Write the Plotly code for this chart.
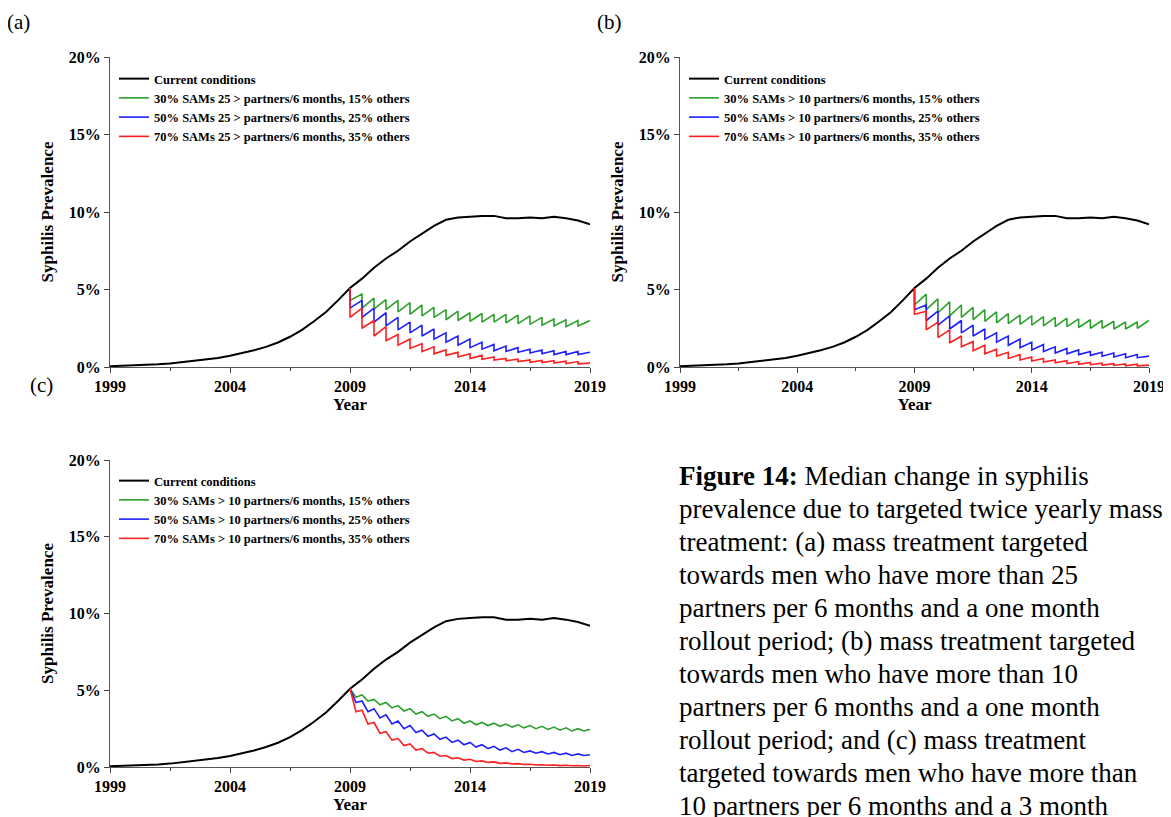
import plotly.graph_objects as go

# black baseline, half-yearly 1999..2019 (%)
years = [1999 + 0.5 * i for i in range(41)]
current = [0.05, 0.07, 0.1, 0.13, 0.17, 0.22, 0.3, 0.38, 0.47, 0.58, 0.72, 0.88, 1.08, 1.3,
           1.58, 1.95, 2.4, 2.95, 3.55, 4.3, 5.1, 5.7, 6.4, 7.0, 7.5, 8.1, 8.6, 9.1, 9.5, 9.65,
           9.7, 9.75, 9.75, 9.6, 9.6, 9.65, 9.6, 9.7, 9.6, 9.45, 9.2]

# treatment rounds every 6 months from 2009
rounds = [2009 + 0.5 * k for k in range(20)]

# value just before each round, just after, and at 2019
a_green_pk = [5.1, 4.7, 4.45, 4.35, 4.3, 4.15, 4.0, 3.85, 3.7, 3.6, 3.5, 3.45, 3.4, 3.4, 3.35, 3.3, 3.2, 3.1, 3.05, 3.0]
a_green_tr = [4.3, 3.8, 3.75, 3.7, 3.55, 3.4, 3.3, 3.2, 3.05, 3.0, 2.95, 2.9, 2.9, 2.85, 2.8, 2.75, 2.7, 2.65, 2.6, 2.65]
a_blue_pk = [5.1, 4.3, 3.8, 3.5, 3.2, 2.9, 2.7, 2.45, 2.2, 2.0, 1.8, 1.6, 1.45, 1.35, 1.25, 1.15, 1.1, 1.05, 1.0, 1.0]
a_blue_tr = [3.8, 3.2, 2.9, 2.65, 2.4, 2.2, 2.0, 1.8, 1.6, 1.4, 1.25, 1.15, 1.05, 1.0, 0.95, 0.9, 0.85, 0.8, 0.8, 0.8]
a_red_pk = [5.1, 3.8, 3.0, 2.6, 2.1, 1.8, 1.5, 1.3, 1.1, 0.95, 0.85, 0.75, 0.65, 0.55, 0.5, 0.45, 0.42, 0.4, 0.38, 0.35]
a_red_tr = [3.2, 2.5, 2.0, 1.7, 1.4, 1.2, 1.0, 0.85, 0.75, 0.65, 0.55, 0.5, 0.45, 0.4, 0.35, 0.3, 0.28, 0.25, 0.22, 0.2]
a_end = [3.0, 0.95, 0.25]

b_green_pk = [5.1, 4.7, 4.4, 4.2, 4.0, 3.85, 3.7, 3.55, 3.45, 3.35, 3.3, 3.25, 3.2, 3.15, 3.1, 3.05, 3.0, 2.95, 2.9, 2.9]
b_green_tr = [4.0, 3.7, 3.5, 3.3, 3.2, 3.05, 2.95, 2.85, 2.8, 2.75, 2.7, 2.65, 2.6, 2.6, 2.55, 2.5, 2.5, 2.45, 2.45, 2.5]
b_blue_pk = [5.1, 4.0, 3.6, 3.3, 3.0, 2.7, 2.45, 2.2, 2.0, 1.8, 1.6, 1.45, 1.3, 1.2, 1.1, 1.0, 0.95, 0.9, 0.85, 0.8]
b_blue_tr = [3.7, 3.0, 2.7, 2.45, 2.2, 2.0, 1.8, 1.6, 1.4, 1.25, 1.1, 1.0, 0.9, 0.85, 0.8, 0.75, 0.7, 0.65, 0.6, 0.6]
b_red_pk = [5.1, 3.6, 2.9, 2.4, 2.0, 1.65, 1.4, 1.15, 0.95, 0.8, 0.65, 0.55, 0.45, 0.4, 0.35, 0.3, 0.25, 0.22, 0.2, 0.18]
b_red_tr = [3.4, 2.4, 1.9, 1.55, 1.3, 1.05, 0.85, 0.7, 0.55, 0.45, 0.38, 0.32, 0.27, 0.22, 0.18, 0.15, 0.12, 0.1, 0.08, 0.07]
b_end = [3.0, 0.7, 0.12]

c_green_pk = [5.1, 4.7, 4.4, 4.2, 4.0, 3.8, 3.6, 3.45, 3.3, 3.15, 3.0, 2.9, 2.85, 2.8, 2.75, 2.7, 2.65, 2.6, 2.55, 2.5]
c_green_tr = [4.55, 4.3, 4.05, 3.85, 3.65, 3.45, 3.3, 3.15, 3.0, 2.85, 2.75, 2.7, 2.65, 2.6, 2.55, 2.5, 2.45, 2.4, 2.35, 2.35]
c_blue_pk = [5.1, 4.3, 3.8, 3.4, 3.0, 2.7, 2.4, 2.15, 1.95, 1.75, 1.6, 1.45, 1.35, 1.25, 1.15, 1.05, 1.0, 0.95, 0.9, 0.85]
c_blue_tr = [4.2, 3.6, 3.2, 2.8, 2.5, 2.25, 2.0, 1.8, 1.6, 1.45, 1.3, 1.2, 1.1, 1.0, 0.95, 0.9, 0.85, 0.8, 0.75, 0.75]
c_red_pk = [5.1, 3.7, 2.9, 2.3, 1.85, 1.5, 1.2, 0.95, 0.75, 0.6, 0.5, 0.4, 0.33, 0.27, 0.22, 0.18, 0.15, 0.13, 0.11, 0.1]
c_red_tr = [3.6, 2.8, 2.2, 1.75, 1.4, 1.1, 0.9, 0.7, 0.55, 0.45, 0.36, 0.3, 0.24, 0.2, 0.16, 0.13, 0.11, 0.09, 0.08, 0.07]
c_end = [2.45, 0.8, 0.1]

labels_a = ["Current conditions",
            "30% SAMs 25 > partners/6 months, 15% others",
            "50% SAMs 25 > partners/6 months, 25% others",
            "70% SAMs 25 > partners/6 months, 35% others"]
labels_b = ["Current conditions",
            "30% SAMs > 10 partners/6 months, 15% others",
            "50% SAMs > 10 partners/6 months, 25% others",
            "70% SAMs > 10 partners/6 months, 35% others"]
colors = ["#000000", "#2ca02c", "#1f1fff", "#ff1f1f"]

caption = ["<b>Figure 14:</b> Median change in syphilis",
           "prevalence due to targeted twice yearly mass",
           "treatment: (a) mass treatment targeted",
           "towards men who have more than 25",
           "partners per 6 months and a one month",
           "rollout period; (b) mass treatment targeted",
           "towards men who have more than 10",
           "partners per 6 months and a one month",
           "rollout period; and (c) mass treatment",
           "targeted towards men who have more than",
           "10 partners per 6 months and a 3 month"]

SERIF = "Times New Roman, Liberation Serif, serif"
W, H = 1171, 817
OFF = 8  # page margin of the html body


def px(x):
    return (x - OFF) / W


def py(y):
    return 1 - (y - OFF) / H


def saw(pk, tr, end, rollout):
    xs, ys = [], []
    for t, p, q in zip(rounds, pk, tr):
        xs += [t, t + rollout]
        ys += [p, q]
    xs.append(2019)
    ys.append(end)
    return xs, ys


fig = go.Figure()
panels = [
    ("x", "y", "legend", labels_a, [(a_green_pk, a_green_tr), (a_blue_pk, a_blue_tr), (a_red_pk, a_red_tr)], a_end, 0.0),
    ("x2", "y2", "legend2", labels_b, [(b_green_pk, b_green_tr), (b_blue_pk, b_blue_tr), (b_red_pk, b_red_tr)], b_end, 0.0),
    ("x3", "y3", "legend3", labels_b, [(c_green_pk, c_green_tr), (c_blue_pk, c_blue_tr), (c_red_pk, c_red_tr)], c_end, 0.25),
]
for xa, ya, lg, labs, series, ends, roll in panels:
    fig.add_trace(go.Scatter(x=years, y=current, mode="lines", name="<b>" + labs[0] + "</b>", xaxis=xa, yaxis=ya,
                             legend=lg, line=dict(color=colors[0], width=2)))
    for i, (pk, tr) in enumerate(series):
        xs, ys = saw(pk, tr, ends[i], roll)
        fig.add_trace(go.Scatter(x=xs, y=ys, mode="lines", name="<b>" + labs[i + 1] + "</b>", xaxis=xa, yaxis=ya,
                                 legend=lg, line=dict(color=colors[i + 1], width=1.6)))

tickfont = dict(family=SERIF, size=16, color="#000")
xax = dict(range=[1999, 2019], tickvals=[1999, 2004, 2009, 2014, 2019],
           ticktext=["<b>1999</b>", "<b>2004</b>", "<b>2009</b>", "<b>2014</b>", "<b>2019</b>"],
           ticks="outside", ticklen=5, automargin=False,
           showline=True, linecolor="#555", showgrid=False, zeroline=False, tickfont=tickfont,
           minor=dict(dtick=2.5, tick0=1999, ticks="outside", ticklen=3, showgrid=False),
           title=dict(text="<b>Year</b>", font=dict(family=SERIF, size=17, color="#000"), standoff=0))
yax = dict(range=[0, 20], tickvals=[0, 5, 10, 15, 20], ticktext=["<b>0%</b>", "<b>5%</b>", "<b>10%</b>", "<b>15%</b>", "<b>20%</b>"],
           ticks="outside", ticklen=5, showline=True, linecolor="#555", showgrid=False, zeroline=False,
           tickfont=tickfont, automargin=False,
           title=dict(text="<b>Syphilis Prevalence</b>", font=dict(family=SERIF, size=17, color="#000"), standoff=10))

fig.update_layout(
    width=W, height=H, margin=dict(l=0, r=0, t=0, b=0, autoexpand=False),
    plot_bgcolor="white", paper_bgcolor="white",
    xaxis=dict(xax, domain=[px(110), px(590)], anchor="y"),
    yaxis=dict(yax, domain=[py(367), py(57)], anchor="x"),
    xaxis2=dict(xax, domain=[px(680), px(1149)], anchor="y2"),
    yaxis2=dict(yax, domain=[py(367), py(57)], anchor="x2"),
    xaxis3=dict(xax, domain=[px(110), px(590)], anchor="y3"),
    yaxis3=dict(yax, domain=[py(767), py(460)], anchor="x3"),
)
legbase = dict(font=dict(family=SERIF, size=12.5, color="#000"), bgcolor="rgba(0,0,0,0)",
               xanchor="left", yanchor="top", tracegroupgap=0, itemwidth=30)
fig.update_layout(
    legend=dict(legbase, x=px(114), y=py(64)),
    legend2=dict(legbase, x=px(684), y=py(64)),
    legend3=dict(legbase, x=px(114), y=py(466)),
)

for txt, x, y in [("(a)", 5, 22), ("(b)", 595, 22), ("(c)", 28, 385)]:
    fig.add_annotation(text=txt, x=px(x), y=py(y), xref="paper", yref="paper",
                       xanchor="left", yanchor="middle", showarrow=False,
                       font=dict(family=SERIF, size=21, color="#000"))

for i, line in enumerate(caption):
    fig.add_annotation(text=line, x=px(677), y=py(476 + 33 * i), xref="paper", yref="paper",
                       xanchor="left", yanchor="middle", showarrow=False,
                       font=dict(family=SERIF, size=27, color="#000"))

fig.write_html("out.html")
